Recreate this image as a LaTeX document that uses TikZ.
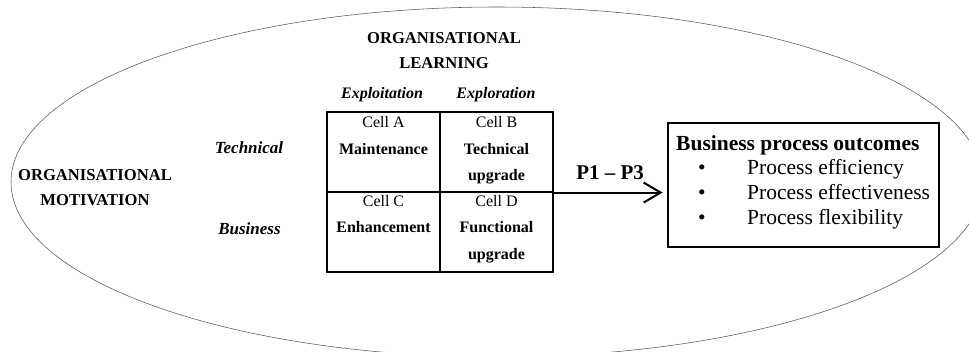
\documentclass[tikz,border=0pt]{standalone}
\usepackage{fontspec}
\setmainfont{Liberation Serif}
\usetikzlibrary{arrows.meta}
\begin{document}
\begin{tikzpicture}[x=1pt,y=-1pt,
  cellbox/.style={draw, line width=1.1pt, minimum width=113pt, minimum height=80pt, inner sep=0pt},
  celltext/.style={anchor=north, align=center, inner sep=0pt, font=\fontsize{16}{26.5}\selectfont},
  hdr/.style={anchor=north, align=center, inner sep=0pt, font=\fontsize{16.6}{25}\selectfont\bfseries},
  rowlab/.style={anchor=base, inner sep=0pt, font=\fontsize{17}{20}\selectfont\bfseries\itshape},
  collab/.style={anchor=base, inner sep=0pt, font=\fontsize{16}{20}\selectfont\bfseries\itshape},
  outbox/.style={draw, line width=2.8pt, minimum width=271pt, minimum height=124pt, inner sep=0pt},
  bigtext/.style={anchor=base west, inner sep=0pt, font=\fontsize{21.5}{24}\selectfont},
  dotmark/.style={anchor=base, inner sep=0pt, font=\fontsize{21.5}{24}\selectfont},
  ovalline/.style={draw=gray!70!black, line width=0.55pt},
  flow/.style={line width=2pt, -{Straight Barb[length=17pt, width=20pt]}, shorten >=4pt}
]
\clip (0,0) rectangle (969,351);
\path[ovalline] (497,182) ellipse [x radius=486pt, y radius=175pt];

% header labels
\node[hdr] (learn) at (444,32.5) {ORGANISATIONAL\\LEARNING};
\node[hdr] (motiv) at (95,169.5) {ORGANISATIONAL\\MOTIVATION};
\node[collab] (exploit) at (382,98.3) {Exploitation};
\node[collab] (explor) at (496,98.3) {Exploration};
\node[rowlab] (tech) at (249,153.6) {Technical};
\node[rowlab] (bus) at (249.5,234.6) {Business};

% grid cells
\node[cellbox] (cA) at (383.5,152) {};
\node[cellbox] (cB) at (496.5,152) {};
\node[cellbox] (cC) at (383.5,232) {};
\node[cellbox] (cD) at (496.5,232) {};
\node[celltext] (tA) at (cA.north) [yshift=-5pt] {Cell A\\\textbf{Maintenance}};
\node[celltext] (tB) at (cB.north) [yshift=-5pt] {Cell B\\\textbf{Technical}\\\textbf{upgrade}};
\node[celltext] (tC) at (cC.north) [yshift=-3.5pt] {Cell C\\\textbf{Enhancement}};
\node[celltext] (tD) at (cD.north) [yshift=-3.5pt] {Cell D\\\textbf{Functional}\\\textbf{upgrade}};

% outcome box
\node[outbox] (out) at (803.5,185) {};
\node[bigtext, font=\fontsize{21.5}{24}\selectfont\bfseries] (title) at (676,150) {Business process outcomes};
\node[dotmark] (d1) at (702,174) {\textbullet};
\node[dotmark] (d2) at (702,199) {\textbullet};
\node[dotmark] (d3) at (702,224) {\textbullet};
\node[bigtext] (b1) at (747,174) {Process efficiency};
\node[bigtext] (b2) at (747,199) {Process effectiveness};
\node[bigtext] (b3) at (747,224) {Process flexibility};

% arrow
\coordinate (aend) at (cB.south east -| out.west);
\draw[flow] (cB.south east) -- node[above=12pt, inner sep=0pt, font=\fontsize{21}{24}\selectfont\bfseries] (plab) {P1 – P3} (aend);
\end{tikzpicture}
\end{document}
